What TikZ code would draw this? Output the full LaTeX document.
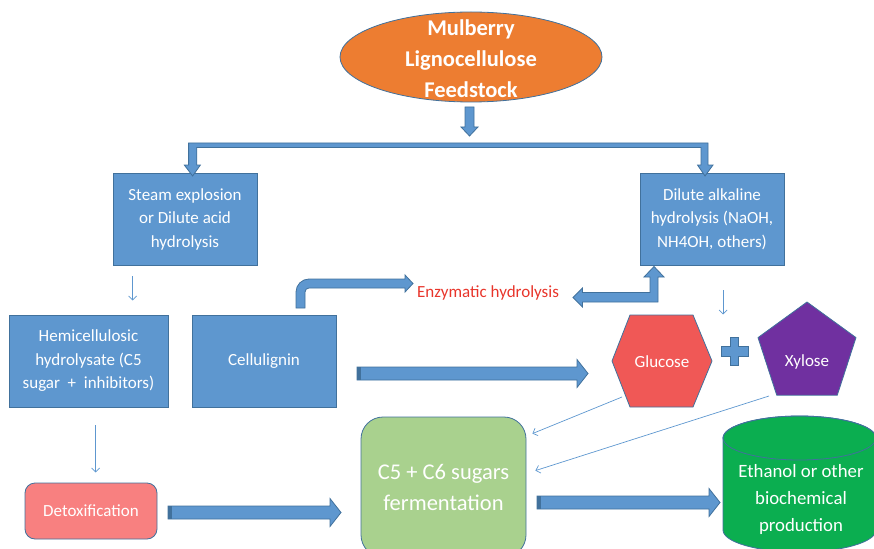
\documentclass[tikz,border=0pt]{standalone}
\usepackage{fontspec}
\setmainfont{Carlito}
\usetikzlibrary{arrows.meta,calc,shapes.geometric}

\definecolor{boxblue}{HTML}{5E97CF}
\definecolor{edge}{HTML}{41719C}
\definecolor{feedorange}{HTML}{ED7D31}
\definecolor{detoxpink}{HTML}{F88080}
\definecolor{glucred}{HTML}{F05856}
\definecolor{xylpurple}{HTML}{7030A0}
\definecolor{fermgreen}{HTML}{A9D18E}
\definecolor{prodgreen}{HTML}{0BAE50}
\definecolor{enzred}{HTML}{E8352B}

\tikzset{
  procbox/.style={draw=edge, line width=0.8pt, fill=boxblue, text=white,
    minimum width=144pt, minimum height=92pt, inner sep=0pt, align=center,
    font=\fontsize{17}{23.5}\selectfont},
  blockarrow/.style={draw=edge, line width=0.8pt, fill=boxblue, line join=miter},
  thinarrow/.style={draw=boxblue, line width=0.7pt,
    -{Straight Barb[length=4pt,width=8pt]}},
  whitetext/.style={text=white, align=center, inner sep=0pt},
}

% horizontal block arrow from a tail coordinate to a tip coordinate
\newcommand\hblock[2]{%
  \path[blockarrow] let \p1=(#1), \p2=(#2) in
    (\x1,\y1+6.5pt) -- (\x2-11pt,\y1+6.5pt) -- (\x2-11pt,\y1+14pt) --
    (\x2,\y1) -- (\x2-11pt,\y1-14pt) -- (\x2-11pt,\y1-6.5pt) --
    (\x1,\y1-6.5pt) -- cycle;
  \fill[edge] let \p1=(#1) in (\x1,\y1+6.5pt) rectangle (\x1+3.5pt,\y1-6.5pt);
}

\begin{document}
\begin{tikzpicture}[x=1pt,y=-1pt]
\useasboundingbox (0,0) rectangle (874,548);

% feedstock ellipse
\draw[edge, line width=0.8pt, fill=feedorange] (471,57) ellipse [x radius=131pt, y radius=45pt];
\node[whitetext, font=\bfseries\fontsize{22.5}{31}\selectfont] (feed) at (471,59)
  {Mulberry\\Lignocellulose\\Feedstock};

% pretreatment boxes
\node[procbox] (steam) at (185,219) {Steam explosion\\or Dilute acid\\hydrolysis};
\node[procbox] (alk) at (712,219) {Dilute alkaline\\hydrolysis (NaOH,\\NH4OH, others)};

% fractions
\node[procbox, minimum width=159pt] (hemi) at (88.5,361)
  {Hemicellulosic\\hydrolysate (C5\\sugar~ + ~inhibitors)};
\node[procbox] (cell) at (264,361) {Cellulignin};

\node[draw=edge, line width=0.8pt, fill=detoxpink, rounded corners=10pt,
  minimum width=132pt, minimum height=56pt, text=white,
  font=\fontsize{17}{23.5}\selectfont] (detox) at (91,511) {Detoxification};

\node[draw=edge, line width=0.8pt, fill=fermgreen, rounded corners=22pt,
  minimum width=165pt, minimum height=140pt, whitetext,
  font=\fontsize{22.5}{31}\selectfont] (ferm) at (443.5,487)
  {C5 + C6 sugars\\fermentation};

\node[text=enzred, inner sep=0pt, font=\fontsize{17}{20}\selectfont] (enz) at (488,293)
  {Enzymatic hydrolysis};

% glucose hexagon
\path[draw=edge, line width=0.8pt, fill=glucred]
  (612,361) -- (630,315) -- (693,315) -- (712,361) -- (693,407) -- (630,407) -- cycle;
\node[whitetext, font=\fontsize{17}{20}\selectfont] (glu) at (662,362) {Glucose};

% plus sign
\path[draw=edge, line width=0.8pt, fill=boxblue]
  (721,346) -- (730,346) -- (730,337) -- (738,337) -- (738,346) -- (748,346) --
  (748,356) -- (738,356) -- (738,365) -- (730,365) -- (730,356) -- (721,356) -- cycle;

% xylose pentagon
\node[regular polygon, regular polygon sides=5, minimum size=103pt, inner sep=0pt,
  draw=edge, line width=0.8pt, fill=xylpurple] (xyl) at (807,353.5) {};
\node[whitetext, font=\fontsize{17}{20}\selectfont] (xyllabel) at (807,362) {Xylose};

% product cylinder
\path[draw=edge, line width=0.8pt, fill=prodgreen]
  (723,438) -- (723,530) arc[start angle=180, end angle=360, x radius=76.5pt, y radius=22pt]
  -- (876,438) arc[start angle=0, end angle=180, x radius=76.5pt, y radius=22pt] -- cycle;
\draw[edge, line width=0.8pt] (799.5,438) ellipse [x radius=76.5pt, y radius=22pt];
\node[whitetext, font=\fontsize{18.8}{27}\selectfont] (prod) at (801,499)
  {Ethanol or other\\biochemical\\production};

% feedstock down arrow
\path[blockarrow] (465,107) -- (474,107) -- (474,127) -- (478,127) -- (469.5,136)
  -- (461,127) -- (465,127) -- cycle;

% split bar feeding both pretreatments
\path[blockarrow]
  (188.6,143) -- (708,143) -- (708,165) -- (713,165) -- (705,176) -- (697.5,165)
  -- (701,165) -- (701,147.5) -- (196.8,147.5) -- (196.8,165) -- (200.4,165)
  -- (192.6,176) -- (184.3,165) -- (188.6,165) -- cycle;

% cellulignin to enzymatic hydrolysis (bent arrow)
\path[blockarrow]
  (296,308) -- (296,292) .. controls (296,284.8) and (301.8,279) .. (309,279)
  -- (405,279) -- (405,275) -- (413,283.5) -- (405,292) -- (405,288) -- (309,288)
  .. controls (306.8,288) and (305,289.8) .. (305,292) -- (305,308) -- cycle;

% alkaline box to enzymatic hydrolysis (two-headed elbow arrow)
\path[blockarrow]
  (573,297.5) -- (582.5,288) -- (582.5,292.5) -- (650,292.5) -- (650,277) -- (644,277)
  -- (654,266.5) -- (664,277) -- (658,277) -- (658,302) -- (582.5,302) -- (582.5,307) -- cycle;

% horizontal block arrows
\coordinate (cg-tail) at (357,373.5);
\coordinate (cg-tip)  at (588,373.5);
\hblock{cg-tail}{cg-tip}
\coordinate (df-tail) at (168,512.5);
\coordinate (df-tip)  at (341,512.5);
\hblock{df-tail}{df-tip}
\coordinate (fp-tail) at (537,502.5);
\coordinate (fp-tip)  at (720,502.5);
\hblock{fp-tail}{fp-tip}

% thin connectors
\draw[thinarrow] ($(steam.south west)+(20,11)$) -- ($(steam.south west)+(20,35)$);
\draw[thinarrow] ($(alk.south west)+(83.5,25)$) -- ($(alk.south west)+(83.5,49)$);
\draw[thinarrow] ($(hemi.south west)+(87,18)$) -- ($(hemi.south west)+(87,65)$);
\draw[thinarrow] ($(glu)+(-40,35)$) -- ($(ferm.north east)+(6,17)$);
\draw[thinarrow] ($(xyl)+(-38,42.5)$) -- ($(ferm.north east)+(9,54)$);
\end{tikzpicture}
\end{document}
